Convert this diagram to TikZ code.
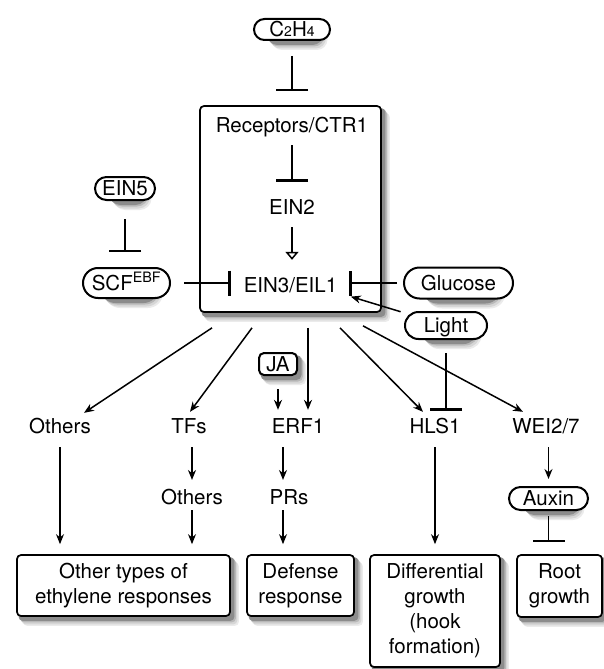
\documentclass[tikz,border=0pt]{standalone}
\usepackage{fontspec}
\setmainfont{TeX Gyre Heros}
\usepackage{tikz}
\usetikzlibrary{arrows.meta}
\usetikzlibrary{shapes.misc}
\usetikzlibrary{backgrounds}
\newcommand{\lowdigit}[1]{{\fontsize{14}{14}\selectfont #1}}
\tikzset{
  lbl/.style={inner sep=0pt,text height=14.7pt,text depth=0pt},
  pill/.style={rounded rectangle,draw,line width=2pt,fill=white,inner sep=0pt,text height=14.7pt,text depth=0pt},
  tag/.style={draw,rounded corners=5pt,line width=2pt,fill=white,inner sep=0pt,text height=14.7pt,text depth=0pt},
  resp/.style={draw,rounded corners=4pt,line width=1.7pt,fill=white,align=center,inner sep=0pt},
  act/.style={-{Stealth[length=10pt,width=8pt]},line width=1.5pt},
  inh/.style={-{Bar[width=#1,line width=2.4pt]},line width=1.6pt},
  inh/.default=32pt,
}
\begin{document}
\begin{tikzpicture}[x=1pt,y=-1pt,font=\fontsize{20.5}{25}\selectfont]
\useasboundingbox (0,0) rectangle (604,669);

\node[resp,minimum width=181pt,minimum height=206pt] (core) at (290.5,209) {};
\node[pill,minimum width=76pt,minimum height=21pt] (c2h4) at (292,29.5) {C\lowdigit{2}H\lowdigit{4}};
\node[lbl] (rec) at (292,125) {Receptors/CTR1};
\node[lbl] (ein2) at (292,206.7) {EIN2};
\node[lbl] (ein3) at (290.5,285) {EIN3/EIL1};
\node[pill,minimum width=60pt,minimum height=23pt] (ein5) at (125,188.5) {EIN5};
\node[pill,minimum width=87pt,minimum height=30pt] (scf) at (126.5,283) {SCF\textsuperscript{EBF}};
\node[pill,minimum width=109pt,minimum height=31pt] (glucose) at (458.5,283) {Glucose};
\node[pill,minimum width=82pt,minimum height=27pt] (light) at (446,325.5) {Light};
\node[tag,minimum width=38pt,minimum height=22pt] (ja) at (278,364) {JA};
\node[lbl] (oth1) at (60,426) {Others};
\node[lbl] (tfs) at (189,426) {TFs};
\node[lbl] (erf) at (298,426) {ERF1};
\node[lbl] (hls) at (435,426) {HLS1};
\node[lbl] (wei) at (546,426) {WEI2/7};
\node[lbl] (oth2) at (192,497.5) {Others};
\node[lbl] (prs) at (289,497.5) {PRs};
\node[pill,minimum width=79pt,minimum height=23pt] (auxin) at (548.5,498.5) {Auxin};
\node[resp,minimum width=213pt,minimum height=61pt] (resp1) at (123.5,585.5) {Other types of\\ethylene responses};
\node[resp,minimum width=107pt,minimum height=61pt] (resp2) at (300.5,585.5) {Defense\\response};
\node[resp,minimum width=130pt,minimum height=112pt] (resp3) at (435,611) {Differential\\growth\\(hook\\formation)};
\node[resp,minimum width=85pt,minimum height=62pt] (resp4) at (559.5,586) {Root\\growth};

\begin{scope}[on background layer]
\foreach \n/\r in {core/4,resp1/4,resp2/4,resp3/4,resp4/4,ja/5,c2h4/10.5,ein5/11.5,scf/15,glucose/15.5,light/13.5,auxin/11.5}
  \foreach \dx/\dy/\g in {8/9/8,6.5/7.5/16,5/5.5/28,3.5/4/45}
    \fill[black!\g,rounded corners=\r pt] ([xshift=\dx pt-1pt,yshift=-\dy pt]\n.south west) rectangle ([xshift=\dx pt,yshift=-\dy pt+1pt]\n.north east);
\end{scope}

\draw[inh,shorten <=15pt,shorten >=14pt] (c2h4.south) -- (c2h4.south |- core.north);
\draw[inh,shorten <=12.5pt,shorten >=17.3pt] (rec.south) -- (ein2.north);
\draw[-{Triangle[open,length=8pt,width=13pt]},line width=1.5pt,shorten <=13pt,shorten >=17.6pt] (ein2.south) -- (ein2.south |- ein3.north);
\draw[inh=25pt,shorten <=13pt,shorten >=13pt] (scf.east) -- (scf.east -| ein3.west);
\draw[inh=25pt,shorten <=6pt,shorten >=12pt] (glucose.west) -- (glucose.west -| ein3.east);
\draw[act,shorten <=9pt,shorten >=14pt] (light) -- (ein3.south east);
\draw[inh,shorten <=18pt,shorten >=15pt] (ein5.south) -- (ein5.south |- scf.north);

\draw[act] ([xshift=-78.5pt,yshift=-15pt]core.south) -- ([xshift=24pt,yshift=5.6pt]oth1.north);
\draw[act] ([xshift=-38.5pt,yshift=-15pt]core.south) -- ([xshift=1pt,yshift=6.6pt]tfs.north);
\draw[act] ([xshift=17.5pt,yshift=-15pt]core.south) -- ([xshift=10pt,yshift=8.6pt]erf.north);
\draw[act] ([xshift=49.5pt,yshift=-15pt]core.south) -- ([xshift=-12pt,yshift=6.6pt]hls.north);
\draw[act] ([xshift=72.5pt,yshift=-13pt]core.south) -- ([xshift=-23pt,yshift=6.6pt]wei.north);
\draw[act,shorten <=13pt,shorten >=8.6pt] (ja.south) -- ([xshift=-20pt]erf.north);
\draw[inh,shorten <=13pt,shorten >=7.6pt] (light.south) -- (light.south |- hls.north);

\draw[act,shorten <=13.6pt,shorten >=10pt] (oth1.south) -- (oth1.south |- resp1.north);
\draw[act,shorten <=13.6pt,shorten >=10pt] (tfs.south -| oth2.north) -- (oth2.north);
\draw[act,shorten <=5pt,shorten >=10pt] (oth2.south) -- (oth2.south |- resp1.north);
\draw[act,shorten <=13.6pt,shorten >=10pt] ([xshift=-15pt]erf.south) -- ([xshift=-15pt]erf.south |- prs.north);
\draw[act,shorten <=5pt,shorten >=10pt] ([xshift=-6pt]prs.south) -- ([xshift=-6pt]prs.south |- resp2.north);
\draw[act,shorten <=13.6pt,shorten >=10pt] (hls.south) -- (resp3.north);
\draw[act,shorten <=13.6pt,shorten >=7pt] (wei.south -| auxin.north) -- (auxin.north);
\draw[inh,shorten <=5pt,shorten >=12pt] (auxin.south) -- (auxin.south |- resp4.north);
\end{tikzpicture}
\end{document}
